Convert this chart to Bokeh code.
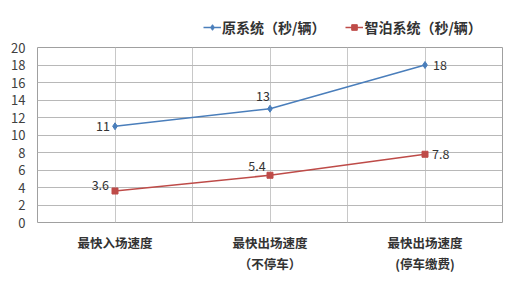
from bokeh.plotting import figure
from bokeh.layouts import column
from bokeh.models import ColumnDataSource, Legend, LegendItem, FixedTicker, Range1d
from bokeh.core.properties import value
from bokeh.embed import file_html
from bokeh.resources import INLINE

categories = ["最快入场速度", "最快出场速度\n（不停车）", "最快出场速度\n(停车缴费)"]
orig = [11, 13, 18]
zhibo = [3.6, 5.4, 7.8]
series_names = ["原系统（秒/辆）", "智泊系统（秒/辆）"]
y_ticks = list(range(0, 21, 2))

BLUE = "#4a7ebb"
RED = "#be4b48"
FONT = "Noto Sans CJK SC"

xs = [i + 0.5 for i in range(len(categories))]

# header with legend (dummy renderers kept outside the visible range)
h = figure(width=522, height=39, output_backend="svg", toolbar_location=None,
           x_range=Range1d(0, 1), y_range=Range1d(0, 1),
           min_border=0, x_axis_type=None, y_axis_type=None)
h.outline_line_color = None
h.grid.visible = False
hl1 = h.line([-5, -4], [-5, -5], line_color=BLUE, line_width=1.5)
hs1 = h.scatter([-5], [-5], marker="diamond", size=7, color=BLUE)
hl2 = h.line([-5, -4], [-5, -5], line_color=RED, line_width=1.5)
hs2 = h.scatter([-5], [-5], marker="square", size=6, color=RED)
legend = Legend(items=[LegendItem(label=series_names[0], renderers=[hl1, hs1]),
                       LegendItem(label=series_names[1], renderers=[hl2, hs2])],
                orientation="horizontal", location=(166, 2),
                label_text_font=FONT, label_text_font_size="14px",
                label_text_font_style="bold", label_text_color="#333333",
                background_fill_alpha=0, border_line_color=None,
                glyph_width=18, glyph_height=14, spacing=20, padding=0,
                margin=0, label_standoff=1, label_height=14)
h.add_layout(legend, "center")

p = figure(width=522, height=250, output_backend="svg", toolbar_location=None,
           x_range=Range1d(0, len(categories)), y_range=Range1d(0, 20),
           min_border_left=37, min_border_right=20, min_border_top=8, min_border_bottom=67)
p.outline_line_color = "#a0a0a0"
p.background_fill_color = "white"

p.xaxis.ticker = FixedTicker(ticks=xs)
p.xaxis.major_label_overrides = {x: c for x, c in zip(xs, categories)}
p.xaxis.major_label_text_font = FONT
p.xaxis.major_label_text_font_style = "bold"
p.xaxis.major_label_text_font_size = "12.5px"
p.xaxis.major_label_text_color = "#333333"
p.xaxis.major_label_text_line_height = 1.15
p.xaxis.axis_line_color = None
p.xaxis.major_tick_line_color = None
p.xaxis.minor_tick_line_color = None
p.xaxis.major_label_standoff = 4

p.yaxis.ticker = FixedTicker(ticks=y_ticks)
p.yaxis.major_label_text_font = FONT
p.yaxis.major_label_text_font_size = "13px"
p.yaxis.major_label_text_color = "#404040"
p.yaxis.axis_line_color = None
p.yaxis.major_tick_line_color = None
p.yaxis.minor_tick_line_color = None
p.yaxis.major_label_standoff = 6

p.xgrid.ticker = FixedTicker(ticks=[i * 0.5 for i in range(2 * len(categories) + 1)])
p.xgrid.grid_line_color = "#c8c8c8"
p.ygrid.grid_line_color = "#b8b8b8"

p.line(xs, orig, line_color=BLUE, line_width=1.5)
p.scatter(xs, orig, marker="diamond", size=7, color=BLUE)
p.line(xs, zhibo, line_color=RED, line_width=1.5)
p.scatter(xs, zhibo, marker="square", size=6, color=RED)

src1 = ColumnDataSource(dict(x=xs, y=orig, t=[str(v) for v in orig],
                             dx=[-5, -7, 8], dy=[0, -13, 0],
                             al=["right", "center", "left"]))
p.text("x", "y", "t", source=src1, x_offset="dx", y_offset="dy", text_align="al",
       text_baseline="middle", text_font=value(FONT), text_font_size="12.5px",
       text_color="#333333")
src2 = ColumnDataSource(dict(x=xs, y=zhibo, t=[str(v) for v in zhibo],
                             dx=[-6, -13, 7], dy=[-6, -9, 0],
                             al=["right", "center", "left"]))
p.text("x", "y", "t", source=src2, x_offset="dx", y_offset="dy", text_align="al",
       text_baseline="middle", text_font=value(FONT), text_font_size="12.5px",
       text_color="#333333")

open("out.html", "w").write(file_html(column(h, p, spacing=0), INLINE))
